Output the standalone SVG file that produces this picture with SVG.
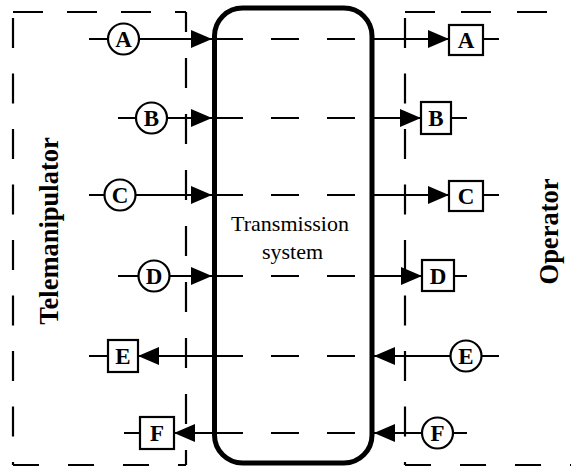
<svg xmlns="http://www.w3.org/2000/svg" width="571" height="468" viewBox="0 0 571 468">
<style>
.frame{fill:none;stroke:#000;stroke-width:2.2}
.ln{fill:none;stroke:#000;stroke-width:2}
.dl{fill:none;stroke:#000;stroke-width:2;stroke-dasharray:28 28}
.nd{fill:#fff;stroke:#000;stroke-width:2.2}
.lt{font-family:"Liberation Serif","Times New Roman",serif;font-weight:bold;font-size:23px;text-anchor:middle;fill:#000}
.big{font-family:"Liberation Serif","Times New Roman",serif;font-weight:bold;font-size:26.5px;text-anchor:middle;fill:#000}
.ts{font-family:"Liberation Serif","Times New Roman",serif;font-size:22px;text-anchor:middle;fill:#000}
</style>
<defs>
<marker id="ah" viewBox="0 0 21 18" refX="21" refY="9" markerWidth="21" markerHeight="18" markerUnits="userSpaceOnUse" orient="auto">
<path d="M0,0 L21,9 L0,18 z" fill="#000"/>
</marker>
</defs>
<rect width="571" height="468" fill="#fff"/>
<g id="telemanipulator-frame">
<path class="frame" d="M13,12 H186" style="stroke-dasharray:30 24"/>
<path class="frame" d="M13,18 V465" style="stroke-dasharray:30 25.5"/>
<path class="frame" d="M186,12 V465" style="stroke-dasharray:30 26;stroke-dashoffset:10"/>
<path class="frame" d="M13,465 H186" style="stroke-dasharray:26 29"/>
<text class="big" transform="translate(58,231) rotate(-90)">Telemanipulator</text>
</g>
<g id="operator-frame">
<path class="frame" d="M405,12 H571" style="stroke-dasharray:30 26"/>
<path class="frame" d="M405,18 V465" style="stroke-dasharray:30 25.5"/>
<path class="frame" d="M405,465 H571" style="stroke-dasharray:26 29"/>
<text class="big" transform="translate(558,231.5) rotate(-90)">Operator</text>
</g>
<g id="transmission-system">
<rect x="214.5" y="8" width="157.5" height="455" rx="28" ry="28" fill="none" stroke="#000" stroke-width="5"/>
<text class="ts" x="290" y="231">Transmission</text>
<text class="ts" x="292.5" y="259">system</text>
</g>
<g id="connectors">
<path class="ln" d="M89,39 H108"/>
<path class="ln" d="M139,39 H212" marker-end="url(#ah)"/>
<path class="dl" d="M215,39 H372"/>
<path class="ln" d="M372,39 H449" marker-end="url(#ah)"/>
<path class="ln" d="M483,39 H499"/>

<path class="ln" d="M118,118 H136"/>
<path class="ln" d="M167,118 H212" marker-end="url(#ah)"/>
<path class="dl" d="M215,118 H372"/>
<path class="ln" d="M372,118 H421" marker-end="url(#ah)"/>
<path class="ln" d="M451,118 H467"/>

<path class="ln" d="M89,195 H104.5"/>
<path class="ln" d="M135.5,195 H212" marker-end="url(#ah)"/>
<path class="dl" d="M215,195 H372"/>
<path class="ln" d="M372,195 H449" marker-end="url(#ah)"/>
<path class="ln" d="M483,195 H499"/>

<path class="ln" d="M118,276 H138.5"/>
<path class="ln" d="M169.5,276 H212" marker-end="url(#ah)"/>
<path class="dl" d="M215,276 H372"/>
<path class="ln" d="M372,276 H422" marker-end="url(#ah)"/>
<path class="ln" d="M454,276 H467"/>

<path class="ln" d="M89,356 H108"/>
<path class="ln" d="M212,356 H138" marker-end="url(#ah)"/>
<path class="dl" d="M215,356 H372"/>
<path class="ln" d="M450.5,356 H374" marker-end="url(#ah)"/>
<path class="ln" d="M481.5,356 H499"/>

<path class="ln" d="M124,433 H140"/>
<path class="ln" d="M212,433 H174" marker-end="url(#ah)"/>
<path class="dl" d="M215,433 H372"/>
<path class="ln" d="M422,433 H374" marker-end="url(#ah)"/>
<path class="ln" d="M453,433 H467"/>
</g>
<g id="tele-A"><circle class="nd" cx="123.5" cy="39" r="15.5"/><text class="lt" x="123.5" y="47">A</text></g>
<g id="tele-B"><circle class="nd" cx="151.5" cy="118" r="15.5"/><text class="lt" x="151.5" y="126">B</text></g>
<g id="tele-C"><circle class="nd" cx="120" cy="195" r="15.5"/><text class="lt" x="120" y="203">C</text></g>
<g id="tele-D"><circle class="nd" cx="154" cy="276" r="15.5"/><text class="lt" x="154" y="284">D</text></g>
<g id="tele-E"><rect class="nd" x="108" y="340" width="30" height="32"/><text class="lt" x="123" y="364">E</text></g>
<g id="tele-F"><rect class="nd" x="140" y="417" width="34" height="32"/><text class="lt" x="157" y="441">F</text></g>
<g id="op-A"><rect class="nd" x="449" y="25" width="34" height="30"/><text class="lt" x="466" y="48">A</text></g>
<g id="op-B"><rect class="nd" x="421" y="102" width="30" height="32"/><text class="lt" x="436" y="126">B</text></g>
<g id="op-C"><rect class="nd" x="449" y="181" width="34" height="30"/><text class="lt" x="466" y="204">C</text></g>
<g id="op-D"><rect class="nd" x="422" y="260" width="32" height="31"/><text class="lt" x="438" y="284">D</text></g>
<g id="op-E"><circle class="nd" cx="466" cy="356" r="15.5"/><text class="lt" x="466" y="364">E</text></g>
<g id="op-F"><circle class="nd" cx="437.5" cy="433" r="15.5"/><text class="lt" x="437.5" y="441">F</text></g>
</svg>
